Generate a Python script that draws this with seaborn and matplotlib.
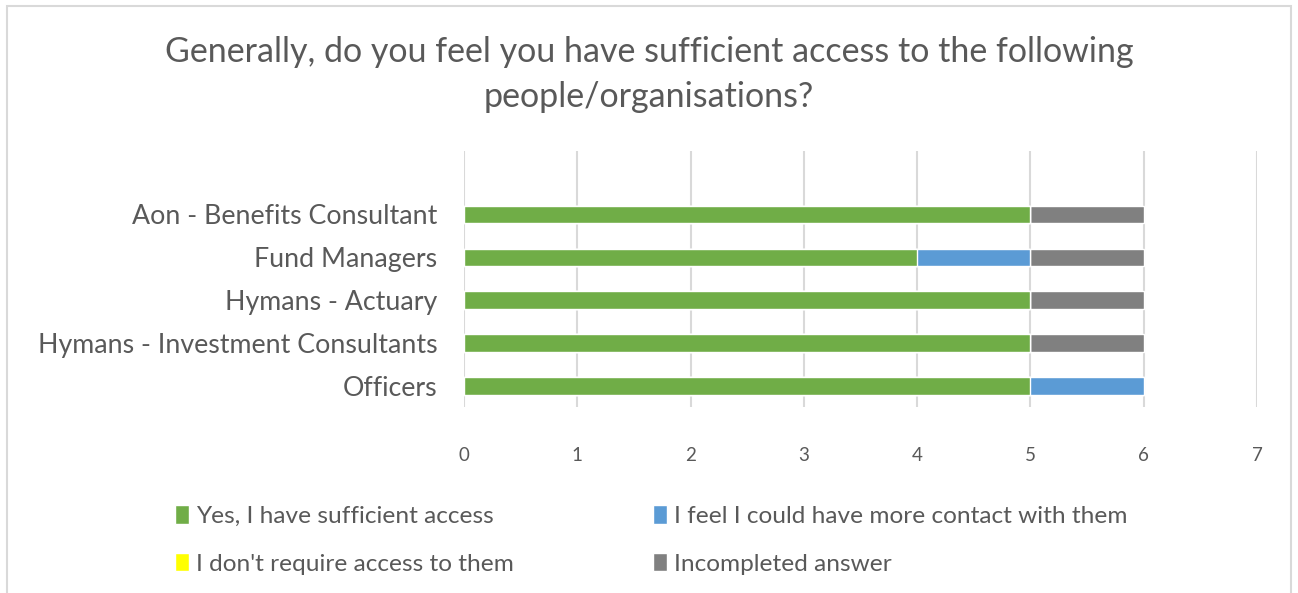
import matplotlib
matplotlib.use("Agg")
import matplotlib.pyplot as plt
import seaborn as sns
import pandas as pd
import numpy as np
from matplotlib.patches import Rectangle, Patch

categories = ["Aon - Benefits Consultant", "Fund Managers", "Hymans - Actuary",
              "Hymans - Investment Consultants", "Officers"]
series_names = ["Yes, I have sufficient access", "I feel I could have more contact with them",
                "I don't require access to them", "Incompleted answer"]
yes_vals = [5, 4, 5, 5, 5]
more_vals = [0, 1, 0, 0, 1]
noreq_vals = [0, 0, 0, 0, 0]
incomplete_vals = [1, 1, 1, 1, 0]
colors = ["#70AD47", "#5B9BD5", "#FFFF00", "#808080"]
x_ticks = [0, 1, 2, 3, 4, 5, 6, 7]
title = "Generally, do you feel you have sufficient access to the following\npeople/organisations?"

sns.set_theme(style="white")
plt.rcParams['font.family'] = ['Lato', 'DejaVu Sans']
txt = "#595959"
grid_c = "#D9D9D9"

fig = plt.figure(figsize=(12.98, 5.93), dpi=100)
ax = fig.add_axes([464/1298, 1-407/593, (1257-464)/1298, (407-151)/593])

series = [yes_vals, more_vals, noreq_vals, incomplete_vals]
cum = np.cumsum(np.array(series), axis=0)
# draw cumulative totals from largest to smallest so the stacks show
for i in range(len(series)-1, -1, -1):
    df = pd.DataFrame({"cat": categories, "val": cum[i]})
    sns.barplot(data=df, x="val", y="cat", order=categories, orient="h",
                color=colors[i], saturation=1, width=0.4, ax=ax, zorder=3)

ax.set_xlim(0, 7)
ax.set_ylim(4.49, -1.47)
ax.set_xticks(x_ticks)
ax.set_xticklabels([str(t) for t in x_ticks])
ax.set_xlabel("")
ax.set_ylabel("")
ax.xaxis.grid(True, color=grid_c, linewidth=1.5, zorder=0)
ax.yaxis.grid(False)
ax.set_axisbelow(True)
for s in ax.spines.values():
    s.set_visible(False)
ax.tick_params(axis="x", length=0, pad=29, labelsize=13.5, labelcolor=txt)
ax.tick_params(axis="y", length=0, pad=19, labelsize=19.3, labelcolor=txt)

fig.text(0.5, 1-74.5/593, title, ha="center", va="center", fontsize=24.5, color=txt,
         linespacing=1.52)

handles = [Patch(facecolor=colors[0]), Patch(facecolor=colors[2]),
           Patch(facecolor=colors[1]), Patch(facecolor=colors[3])]
labels = [series_names[0], series_names[2], series_names[1], series_names[3]]
leg = fig.legend(handles, labels, ncol=2, loc="upper left",
                 bbox_to_anchor=(163/1298, 1-493/593), frameon=False, borderpad=0,
                 fontsize=17.6, labelcolor=txt, handlelength=0.55, handleheight=0.8,
                 handletextpad=0.3, columnspacing=5.7, labelspacing=1.05)

fig.patches.append(Rectangle((7/1298, -0.05), (1291-7)/1298, 1.05-6/593,
                             transform=fig.transFigure, fill=False,
                             edgecolor=grid_c, linewidth=1.5))

fig.savefig("out.png", dpi=100)
